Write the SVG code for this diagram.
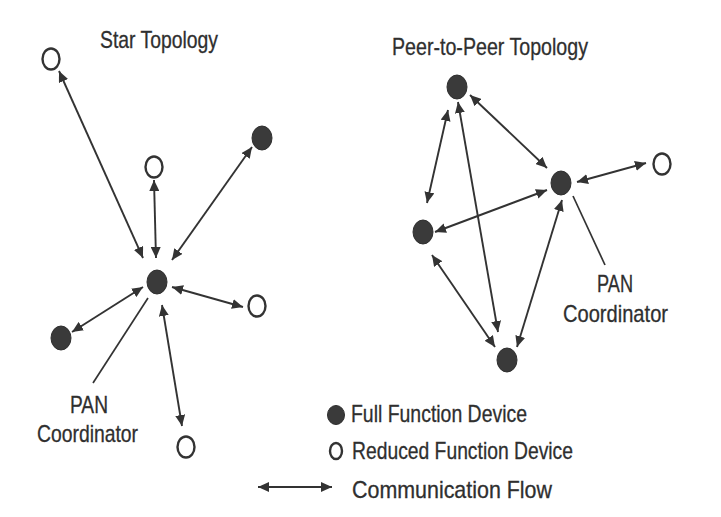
<svg xmlns="http://www.w3.org/2000/svg" width="721" height="517" viewBox="0 0 721 517">
  <style>
    .lbl { font-family: "Liberation Sans", Arial, sans-serif; font-size: 24px; fill: #2f2f2f; stroke: #2f2f2f; stroke-width: 0.3; }
    .ffd { fill: #3a3a3a; stroke: #2e2e2e; stroke-width: 1; }
    .rfd { fill: #fff; stroke: #333; stroke-width: 2.4; }
    .flow { stroke: #333; stroke-width: 1.9; fill: none; marker-start: url(#tip); marker-end: url(#tip); }
    .lead { stroke: #333; stroke-width: 1.7; fill: none; }
  </style>
  <defs>
    <marker id="tip" markerUnits="userSpaceOnUse" markerWidth="12" markerHeight="10" refX="11" refY="5" orient="auto-start-reverse">
      <path d="M0,0 L11,5 L0,10 Z" fill="#333"/>
    </marker>
  </defs>
  <rect width="721" height="517" fill="#fff"/>

  <!-- titles -->
  <text class="lbl" x="100" y="48" textLength="118" lengthAdjust="spacingAndGlyphs">Star Topology</text>
  <text class="lbl" x="392" y="55" textLength="196" lengthAdjust="spacingAndGlyphs">Peer-to-Peer Topology</text>

  <!-- connectors -->
  <g id="connectors">
    <!-- star -->
    <line class="flow" x1="143" y1="258" x2="59" y2="71"/>
    <line class="flow" x1="156" y1="258" x2="154" y2="180"/>
    <line class="flow" x1="172" y1="260" x2="252" y2="147"/>
    <line class="flow" x1="172" y1="287" x2="243" y2="307"/>
    <line class="flow" x1="143" y1="287" x2="72" y2="332"/>
    <line class="flow" x1="162" y1="305" x2="182" y2="426"/>
    <line class="lead" x1="93" y1="383" x2="148" y2="298"/>
    <!-- peer-to-peer -->
    <line class="flow" x1="470" y1="95" x2="547" y2="168"/>
    <line class="flow" x1="448" y1="110" x2="427" y2="203"/>
    <line class="flow" x1="458" y1="102" x2="498" y2="332"/>
    <line class="flow" x1="577" y1="182" x2="646" y2="163"/>
    <line class="flow" x1="547" y1="190" x2="435" y2="232"/>
    <line class="flow" x1="562" y1="200" x2="517" y2="347"/>
    <line class="flow" x1="432" y1="255" x2="495" y2="347"/>
    <line class="lead" x1="573" y1="196" x2="605" y2="265"/>
  </g>

  <!-- star nodes -->
  <g id="star-coordinator"><ellipse class="ffd" cx="157" cy="282" rx="10" ry="12"/></g>
  <g id="star-rfd-1"><ellipse class="rfd" cx="51" cy="59" rx="8.5" ry="10.5"/></g>
  <g id="star-rfd-2"><ellipse class="rfd" cx="154" cy="167" rx="8.5" ry="10.5"/></g>
  <g id="star-ffd-1"><ellipse class="ffd" cx="262" cy="138" rx="10" ry="12"/></g>
  <g id="star-rfd-3"><ellipse class="rfd" cx="257" cy="306" rx="8.5" ry="10.5"/></g>
  <g id="star-ffd-2"><ellipse class="ffd" cx="61" cy="338" rx="10" ry="12"/></g>
  <g id="star-rfd-4"><ellipse class="rfd" cx="186" cy="447" rx="8.5" ry="10.5"/></g>
  <g id="star-pan-label">
    <text class="lbl" x="70" y="413" textLength="38" lengthAdjust="spacingAndGlyphs">PAN</text>
    <text class="lbl" x="37" y="442" textLength="101" lengthAdjust="spacingAndGlyphs">Coordinator</text>
  </g>

  <!-- peer-to-peer nodes -->
  <g id="p2p-ffd-top"><ellipse class="ffd" cx="457" cy="87" rx="10" ry="12"/></g>
  <g id="p2p-coordinator"><ellipse class="ffd" cx="561" cy="183" rx="10" ry="12"/></g>
  <g id="p2p-rfd"><ellipse class="rfd" cx="662" cy="164" rx="8.5" ry="10.5"/></g>
  <g id="p2p-ffd-left"><ellipse class="ffd" cx="423" cy="232" rx="10" ry="12"/></g>
  <g id="p2p-ffd-bottom"><ellipse class="ffd" cx="507" cy="360" rx="10" ry="12"/></g>
  <g id="p2p-pan-label">
    <text class="lbl" x="597" y="292" textLength="36" lengthAdjust="spacingAndGlyphs">PAN</text>
    <text class="lbl" x="563" y="322" textLength="105" lengthAdjust="spacingAndGlyphs">Coordinator</text>
  </g>

  <!-- legend -->
  <g id="legend">
    <ellipse class="ffd" cx="336" cy="415" rx="8.5" ry="9.5"/>
    <text class="lbl" x="351" y="422" textLength="176" lengthAdjust="spacingAndGlyphs">Full Function Device</text>
    <ellipse class="rfd" cx="336" cy="451" rx="6" ry="8" stroke-width="2"/>
    <text class="lbl" x="352" y="459" textLength="221" lengthAdjust="spacingAndGlyphs">Reduced Function Device</text>
    <line class="flow" x1="258" y1="487" x2="332" y2="487"/>
    <text class="lbl" x="352" y="498" textLength="200" lengthAdjust="spacingAndGlyphs">Communication Flow</text>
  </g>
</svg>
